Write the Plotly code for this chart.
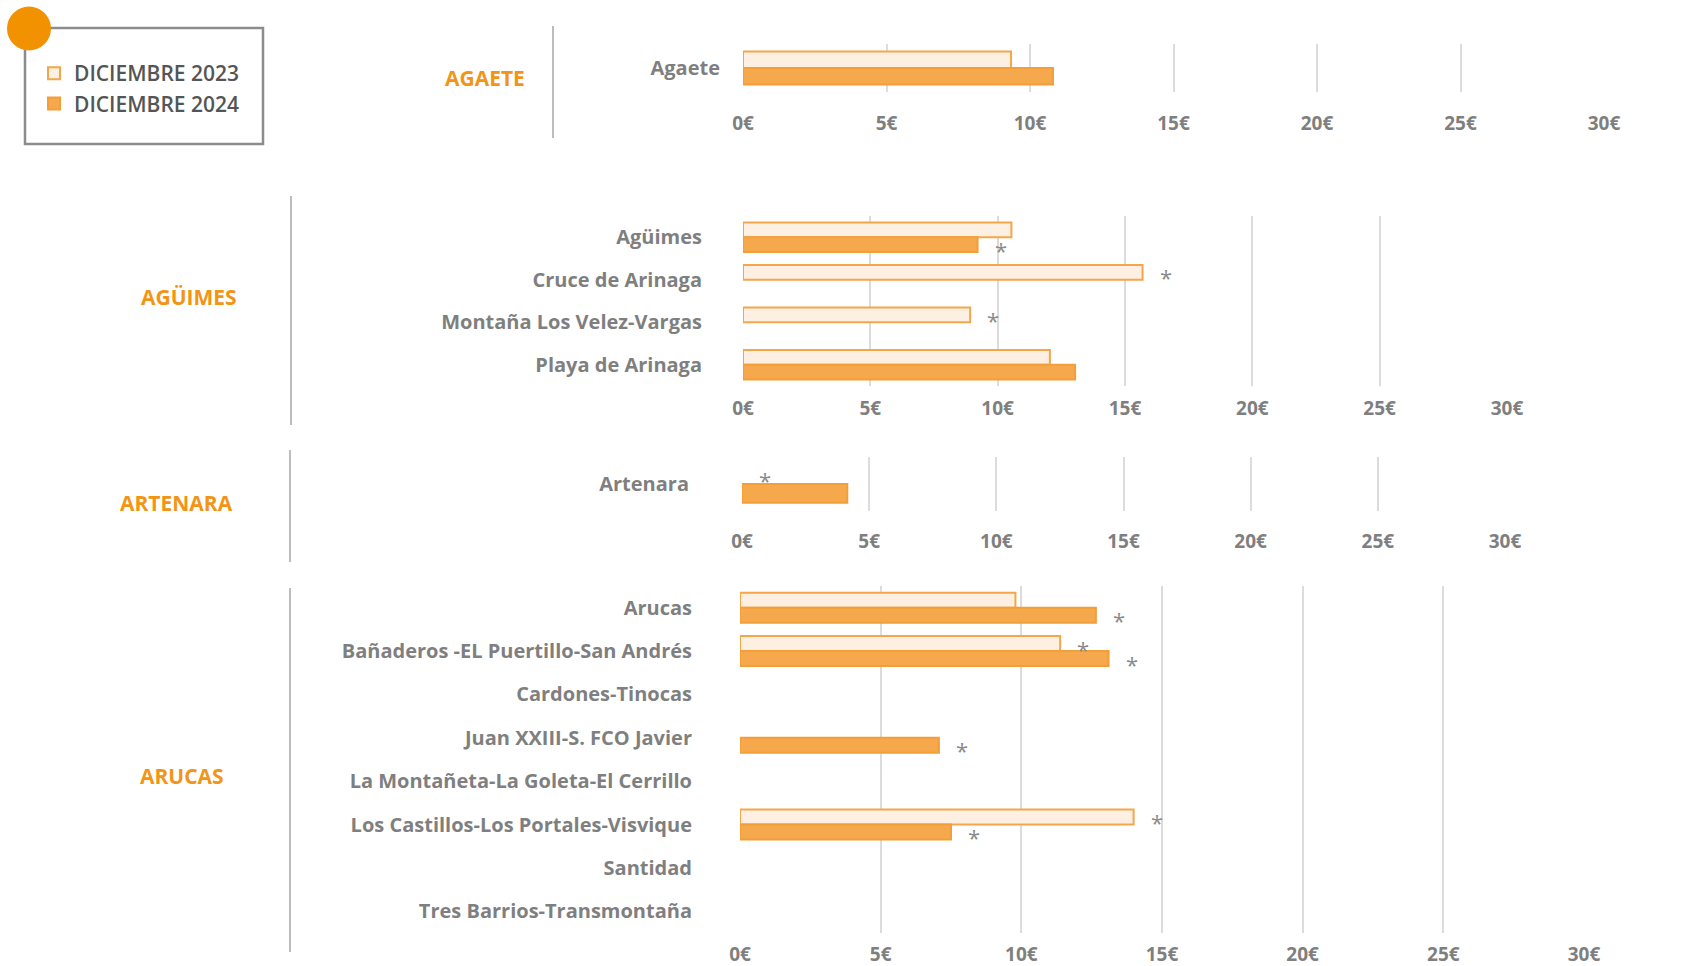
import plotly.graph_objects as go

# ---------------- data ----------------
agaete_cats = ["Agaete"]
agaete_2023 = [9.34]
agaete_2024 = [10.8]
agaete_ast_2023 = [False]
agaete_ast_2024 = [False]

aguimes_cats = ["Agüimes", "Cruce de Arinaga", "Montaña Los Velez-Vargas", "Playa de Arinaga"]
aguimes_2023 = [10.54, 15.69, 8.92, 12.05]
aguimes_2024 = [9.21, None, None, 13.04]
aguimes_ast_2023 = [False, True, True, False]
aguimes_ast_2024 = [True, False, False, False]

artenara_cats = ["Artenara"]
artenara_2023 = [None]
artenara_2024 = [4.14]
artenara_ast_2023 = [True]
artenara_ast_2024 = [False]

arucas_cats = ["Arucas", "Bañaderos -EL Puertillo-San Andrés", "Cardones-Tinocas",
               "Juan XXIII-S. FCO Javier", "La Montañeta-La Goleta-El Cerrillo",
               "Los Castillos-Los Portales-Visvique", "Santidad", "Tres Barrios-Transmontaña"]
arucas_2023 = [9.79, 11.38, None, None, None, 13.99, None, None]
arucas_2024 = [12.65, 13.10, None, 7.07, None, 7.50, None, None]
arucas_ast_2023 = [False, True, False, False, False, True, False, False]
arucas_ast_2024 = [True, True, False, True, False, True, False, False]

municipios = ["AGAETE", "AGÜIMES", "ARTENARA", "ARUCAS"]
series_names = ["DICIEMBRE 2023", "DICIEMBRE 2024"]
x_ticks = [0, 5, 10, 15, 20, 25, 30]
x_tick_labels = ["0€", "5€", "10€", "15€", "20€", "25€", "30€"]

# ---------------- styling ----------------
W, H = 1696, 966
FONT = "Open Sans"
ORANGE = "#F39200"
TITLE_ORANGE = "#F29414"
FILL_2023 = "#FDF0E2"
LINE_2023 = "#F5A54A"
FILL_2024 = "#F6A84C"
LINE_2024 = "#F39E38"
GREY_TXT = "#7F7F7F"
GRID = "#DCDCDC"

panels = [
    dict(cats=agaete_cats, v23=agaete_2023, v24=agaete_2024, a23=agaete_ast_2023, a24=agaete_ast_2024,
         xpx=(743, 1604), ypx=(44, 92), standoff=22, xstand=18, title=municipios[0],
         title_xy=(527, 78), sep=(553, 26, 138)),
    dict(cats=aguimes_cats, v23=aguimes_2023, v24=aguimes_2024, a23=aguimes_ast_2023, a24=aguimes_ast_2024,
         xpx=(743, 1507), ypx=(216, 386), standoff=40, xstand=9, title=municipios[1],
         title_xy=(239, 297), sep=(291, 196, 425)),
    dict(cats=artenara_cats, v23=artenara_2023, v24=artenara_2024, a23=artenara_ast_2023, a24=artenara_ast_2024,
         xpx=(742, 1505), ypx=(457, 511), standoff=52, xstand=17, title=municipios[2],
         title_xy=(235, 503), sep=(290, 450, 562)),
    dict(cats=arucas_cats, v23=arucas_2023, v24=arucas_2024, a23=arucas_ast_2023, a24=arucas_ast_2024,
         xpx=(740, 1584), ypx=(586, 933), standoff=47, xstand=8, title=municipios[3],
         title_xy=(226, 776), sep=(290, 588, 952)),
]
BARGAP = 0.31

fig = go.Figure()
layout = dict(
    width=W, height=H, margin=dict(l=0, r=0, t=0, b=0, autoexpand=False),
    paper_bgcolor="white", plot_bgcolor="white",
    barmode="group", bargroupgap=0, bargap=BARGAP,
    font=dict(family=FONT, color=GREY_TXT),
    showlegend=True,
)
annotations = []
shapes = []

for i, p in enumerate(panels):
    n = i + 1
    xa = "x" if n == 1 else f"x{n}"
    ya = "y" if n == 1 else f"y{n}"
    fig.add_trace(go.Bar(
        y=p["cats"], x=p["v23"], orientation="h", name=series_names[0],
        marker=dict(color=FILL_2023, line=dict(color=LINE_2023, width=2)),
        xaxis=xa, yaxis=ya, legendgroup="a", showlegend=(n == 1), hoverinfo="x+y",
    ))
    fig.add_trace(go.Bar(
        y=p["cats"], x=p["v24"], orientation="h", name=series_names[1],
        marker=dict(color=FILL_2024, line=dict(color=LINE_2024, width=2)),
        xaxis=xa, yaxis=ya, legendgroup="b", showlegend=(n == 1), hoverinfo="x+y",
    ))
    ncat = len(p["cats"])
    x0, x1 = p["xpx"]
    y0, y1 = p["ypx"]
    layout[f"xaxis{'' if n == 1 else n}"] = dict(
        domain=[x0 / W, x1 / W], anchor=ya, range=[0, 30], automargin=False,
        tickmode="array", tickvals=x_ticks, ticktext=x_tick_labels,
        showgrid=True, gridcolor=GRID, gridwidth=2,
        zeroline=False, showline=False, ticks="", ticklabelstandoff=p["xstand"],
        tickfont=dict(family=FONT, size=19, color=GREY_TXT, weight=700), fixedrange=True,
    )
    layout[f"yaxis{'' if n == 1 else n}"] = dict(
        domain=[1 - y1 / H, 1 - y0 / H], anchor=xa, type="category", automargin=False,
        range=[ncat - 0.5, -0.5], showgrid=False, zeroline=False, showline=False, ticks="",
        ticklabelstandoff=p["standoff"],
        tickfont=dict(family=FONT, size=20, color=GREY_TXT, weight=700), fixedrange=True,
    )
    cat_px = (y1 - y0) / ncat
    bar_px = cat_px * (1 - BARGAP) / 2
    # asterisks next to flagged bars
    for vals, flags, sgn in ((p["v23"], p["a23"], 1), (p["v24"], p["a24"], -1)):
        for c, v, f in zip(p["cats"], vals, flags):
            if f:
                annotations.append(dict(
                    x=v if v is not None else 0, y=c, xref=xa, yref=ya, text="*",
                    showarrow=False, xanchor="center", yanchor="middle",
                    xshift=23, yshift=sgn * bar_px / 2 - 5,
                    font=dict(family=FONT, size=22, color="#8A8A8A"),
                ))
    tx, ty = p["title_xy"]
    annotations.append(dict(
        x=tx / W, y=1 - ty / H, xref="paper", yref="paper", text=p["title"],
        showarrow=False, xanchor="right", yanchor="middle",
        font=dict(family=FONT, size=21, color=TITLE_ORANGE, weight=700),
    ))
    sx, sy0, sy1 = p["sep"]
    shapes.append(dict(type="line", xref="paper", yref="paper",
                       x0=sx / W, x1=sx / W, y0=1 - sy0 / H, y1=1 - sy1 / H,
                       line=dict(color="#BDBDBD", width=2)))

# legend frame and orange dot
shapes.append(dict(type="rect", xref="paper", yref="paper",
                   x0=25 / W, x1=263 / W, y0=1 - 28 / H, y1=1 - 144 / H,
                   line=dict(color="#8C8C8C", width=2.5), fillcolor="rgba(0,0,0,0)"))
shapes.append(dict(type="circle", xref="paper", yref="paper",
                   x0=7 / W, x1=51 / W, y0=1 - 6.5 / H, y1=1 - 50.5 / H,
                   line=dict(width=0), fillcolor=ORANGE))

layout["annotations"] = annotations
layout["shapes"] = shapes
layout["legend"] = dict(
    x=34 / W, y=1 - 53 / H, xanchor="left", yanchor="top",
    bgcolor="rgba(0,0,0,0)", borderwidth=0, tracegroupgap=0,
    font=dict(family=FONT, size=21, color="#555555", weight=600),
    traceorder="normal", itemclick=False, itemdoubleclick=False,
)
fig.update_layout(**layout)
fig.write_html("out.html", config={"displayModeBar": False},
               post_script="document.body.style.margin='0';document.body.style.overflow='hidden';")
